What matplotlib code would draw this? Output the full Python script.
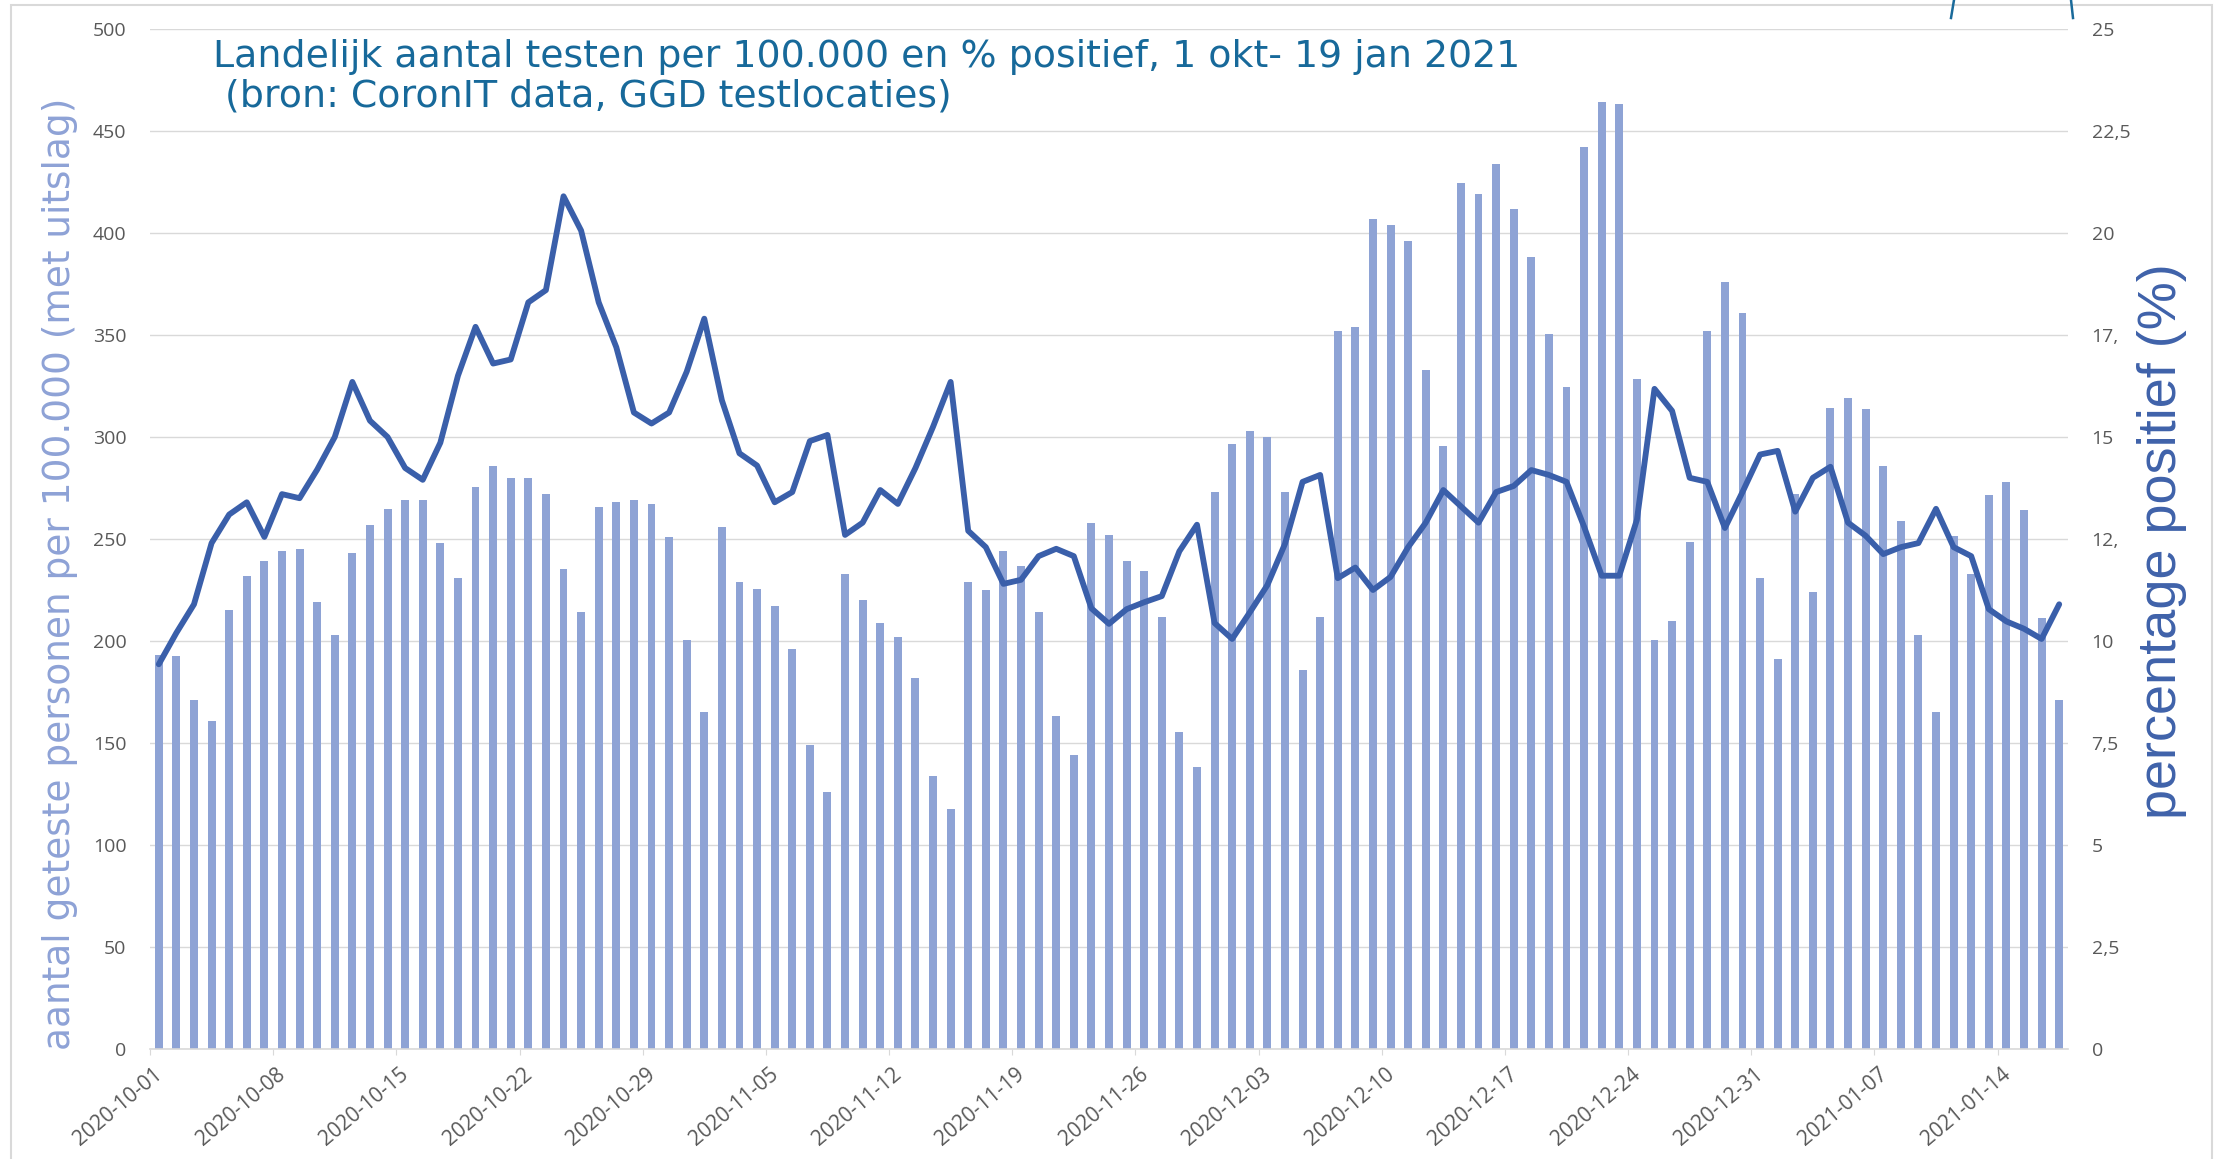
import numpy as np
import pandas as pd
import matplotlib
matplotlib.use('Agg')
import matplotlib.pyplot as plt
import matplotlib.transforms as mtrans
from matplotlib.patches import Rectangle
from matplotlib.lines import Line2D

plt.rcParams['font.family'] = ['Open Sans', 'DejaVu Sans']

# aantal geteste personen per 100.000 (met uitslag), per dag vanaf 2020-10-01
tested = [193, 192.6, 171, 160.6, 215, 232, 239, 244, 245, 219,
          203, 243, 257, 264.5, 269, 269, 248, 231, 275.6, 286,
          280, 280, 272, 235.5, 214, 265.5, 268, 269, 267, 251,
          200.4, 165, 256, 229, 225.7, 217, 196, 148.8, 126, 233,
          220, 209, 201.8, 182, 134, 117.7, 229, 225, 244, 237,
          214, 163, 144, 258, 252, 239, 234.5, 212, 155.5, 138,
          273, 296.6, 303, 300, 273, 186, 212, 352, 354, 407,
          404, 396, 332.6, 295.5, 424.4, 419, 434, 411.6, 388, 350.5,
          324.6, 442, 464, 463, 328.6, 200.4, 210, 248.6, 352, 376,
          361, 231, 191, 272, 224, 314.4, 319, 313.8, 286, 259,
          203, 165, 251.7, 233, 271.6, 277.7, 264, 211.5, 171]

# percentage positief
pct_pos = [9.43, 10.2, 10.9, 12.4, 13.1, 13.4, 12.55, 13.6, 13.5, 14.2,
           15.0, 16.35, 15.4, 15.0, 14.24, 13.95, 14.86, 16.5, 17.7, 16.8,
           16.9, 18.3, 18.6, 20.9, 20.06, 18.3, 17.2, 15.6, 15.33, 15.6,
           16.6, 17.9, 15.9, 14.6, 14.3, 13.4, 13.65, 14.9, 15.05, 12.6,
           12.9, 13.7, 13.36, 14.24, 15.25, 16.35, 12.7, 12.3, 11.4, 11.5,
           12.08, 12.26, 12.08, 10.8, 10.42, 10.78, 10.95, 11.1, 12.2, 12.85,
           10.44, 10.05, 10.7, 11.37, 12.38, 13.9, 14.07, 11.54, 11.8, 11.25,
           11.57, 12.3, 12.9, 13.7, 13.3, 12.9, 13.65, 13.8, 14.19, 14.07,
           13.9, 12.8, 11.6, 11.6, 12.97, 16.18, 15.64, 14.0, 13.9, 12.77,
           13.65, 14.57, 14.66, 13.17, 14.0, 14.27, 12.9, 12.58, 12.13, 12.3,
           12.4, 13.24, 12.3, 12.08, 10.78, 10.48, 10.3, 10.05, 10.9]

dates = pd.date_range('2020-10-01', periods=len(tested))
date_labels = [d.strftime('%Y-%m-%d') for d in dates[::7]]

left_ticks = list(range(0, 501, 50))
right_ticks = [0, 2.5, 5, 7.5, 10, 12.5, 15, 17.5, 20, 22.5, 25]
right_labels = ['0', '2,5', '5', '7,5', '10', '12,', '15', '17,', '20', '22,5', '25']

bar_color = '#8EA3D5'
line_color = '#3A5FAA'
grid_color = '#D9D9D9'
tick_color = '#595959'

W, H = 2223, 1159
fig = plt.figure(figsize=(W / 100, H / 100), dpi=100)

# rand om de grafiek
fig.patches.append(Rectangle((11 / W, -0.01), (2212 - 11) / W, 1.01 - 5 / H,
                             transform=fig.transFigure, fill=False,
                             edgecolor=grid_color, lw=1.5))
# restjes van iets dat erboven is afgesneden
fig.lines.append(Line2D([1954 / W, 1951 / W], [1, 1 - 18 / H], transform=fig.transFigure,
                        color='#1A6A9A', lw=1.8))
fig.lines.append(Line2D([2071 / W, 2073 / W], [1, 1 - 18 / H], transform=fig.transFigure,
                        color='#1A6A9A', lw=1.8))

ax = fig.add_axes([150 / W, 1 - 1049 / H, (2068 - 150) / W, (1049 - 29) / H])
x = np.arange(len(tested)) + 0.5
ax.bar(x, tested, width=0.45, color=bar_color, zorder=2)
ax.set_xlim(0, len(tested))
ax.set_ylim(0, 500)
ax.set_yticks(left_ticks)
ax.grid(axis='y', color=grid_color, lw=1)
ax.set_axisbelow(True)
for s in ['top', 'left', 'right']:
    ax.spines[s].set_visible(False)
ax.spines['bottom'].set_color(grid_color)
ax.spines['bottom'].set_linewidth(1.2)

ax.tick_params(axis='x', length=4.3, color=grid_color, pad=12,
               labelsize=15, labelcolor=tick_color)
ax.tick_params(axis='y', length=0, pad=17, labelsize=14, labelcolor=tick_color)
ax.set_xticks(np.arange(0, len(tested), 7))
ax.set_xticklabels(date_labels, rotation=40, ha='right', va='center',
                   rotation_mode='anchor')
offset = mtrans.ScaledTranslation(0.1, 0, fig.dpi_scale_trans)
for lab in ax.get_xticklabels():
    lab.set_transform(lab.get_transform() + offset)

ax2 = ax.twinx()
ax2.plot(x, pct_pos, color=line_color, lw=4.2, solid_joinstyle='round',
         solid_capstyle='round', zorder=3)
ax2.set_ylim(0, 25)
ax2.set_yticks(right_ticks)
ax2.set_yticklabels(right_labels)
ax2.tick_params(axis='y', length=0, pad=17, labelsize=14, labelcolor=tick_color)
for s in ax2.spines.values():
    s.set_visible(False)

title_color = '#17699A'
fig.text(213 / W, 1 - 67 / H,
         'Landelijk aantal testen per 100.000 en % positief, 1 okt- 19 jan 2021',
         fontsize=27.3, color=title_color, family='DejaVu Sans', va='baseline')
fig.text(213 / W, 1 - 107 / H, ' (bron: CoronIT data, GGD testlocaties)',
         fontsize=27.3, color=title_color, family='DejaVu Sans', va='baseline')

fig.text(60 / W, 1 - 574 / H, 'aantal geteste personen per 100.000 (met uitslag)',
         rotation=90, ha='center', va='center', fontsize=27, color='#8EA2D6',
         family='DejaVu Sans')
fig.text(2162 / W, 1 - 541 / H, 'percentage positief (%)',
         rotation=90, ha='center', va='center', fontsize=39, color='#3F62AA',
         family=['Liberation Sans', 'DejaVu Sans'])

fig.savefig('out.png', dpi=100)
